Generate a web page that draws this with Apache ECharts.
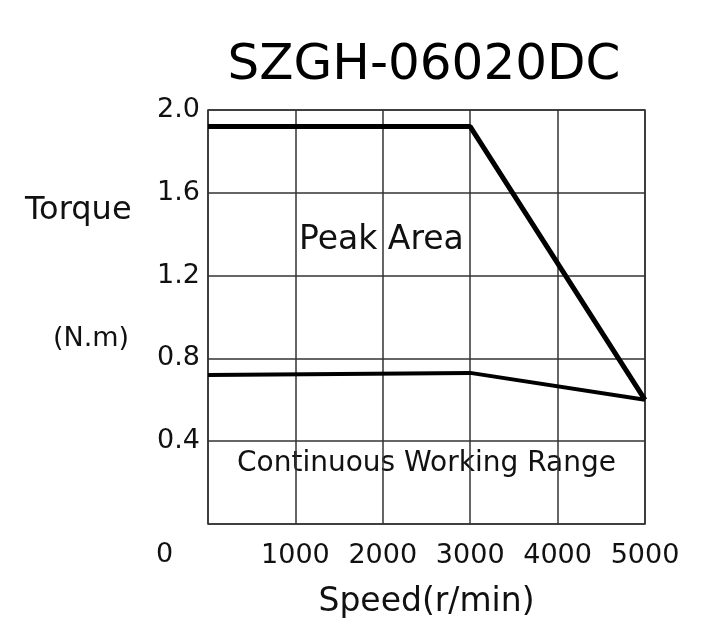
<!DOCTYPE html>
<html><head><meta charset="utf-8">
<script src="https://cdn.jsdelivr.net/npm/echarts@6/dist/echarts.min.js"></script>
<style>html,body{margin:0;padding:0;background:#fff}#c{width:724px;height:624px}</style>
</head><body><div id="c"></div>
<script>
const speeds = [0, 3000, 5000];
const peakTorque = [1.92, 1.92, 0.6];
const contTorque = [0.72, 0.73, 0.6];
const xTicks = [1000, 2000, 3000, 4000, 5000];
const yTicks = [0.4, 0.8, 1.2, 1.6, 2.0];
const chart = echarts.init(document.getElementById('c'));
const font = 'DejaVu Sans, sans-serif';
chart.setOption({
  animation: false,
  backgroundColor: '#fff',
  title: {text: 'SZGH-06020DC', left: 419, top: 36, textAlign: 'center',
    textStyle: {fontSize: 50, fontWeight: 'normal', color: '#000', fontFamily: font}},
  grid: {left: 208, right: 79, top: 110, bottom: 97, show: true, borderColor: '#333', borderWidth: 1.5},
  xAxis: {type: 'value', min: 0, max: 5000, interval: 1000,
    axisLine: {show: false}, axisTick: {show: false},
    splitLine: {lineStyle: {color: '#333', width: 1.5}},
    axisLabel: {margin: 18, fontSize: 27, color: '#111', fontFamily: font,
      formatter: v => xTicks.includes(v) ? String(v) : ''},
    name: 'Speed(r/min)', nameLocation: 'middle', nameGap: 62,
    nameTextStyle: {fontSize: 33, color: '#111', fontFamily: font}},
  yAxis: {type: 'value', min: 0, max: 2.0, interval: 0.4,
    axisLine: {show: false}, axisTick: {show: false},
    splitLine: {lineStyle: {color: '#333', width: 1.5}},
    axisLabel: {margin: 8, fontSize: 27, color: '#111', fontFamily: font,
      formatter: v => { const t = yTicks.find(k => Math.abs(k - v) < 1e-6); return t ? t.toFixed(1) : ''; }}},
  graphic: [
    {type: 'text', left: 156, top: 541, style: {text: '0', fontSize: 27, fill: '#111', fontFamily: font}},
    {type: 'text', left: 25, top: 195, style: {text: 'Torque', fontSize: 32, fill: '#111', fontFamily: font}},
    {type: 'text', left: 53, top: 325, style: {text: '(N.m)', fontSize: 27, fill: '#111', fontFamily: font}},
    {type: 'text', left: 299, top: 224, style: {text: 'Peak Area', fontSize: 33, fill: '#111', fontFamily: font}},
    {type: 'text', left: 237, top: 450, style: {text: 'Continuous Working Range', fontSize: 28, fill: '#111', fontFamily: font}}
  ],
  series: [
    {type: 'line', data: speeds.map((s, i) => [s, peakTorque[i]]), symbol: 'none',
      lineStyle: {color: '#000', width: 5}},
    {type: 'line', data: speeds.map((s, i) => [s, contTorque[i]]), symbol: 'none',
      lineStyle: {color: '#000', width: 4}}
  ]
});
</script></body></html>
